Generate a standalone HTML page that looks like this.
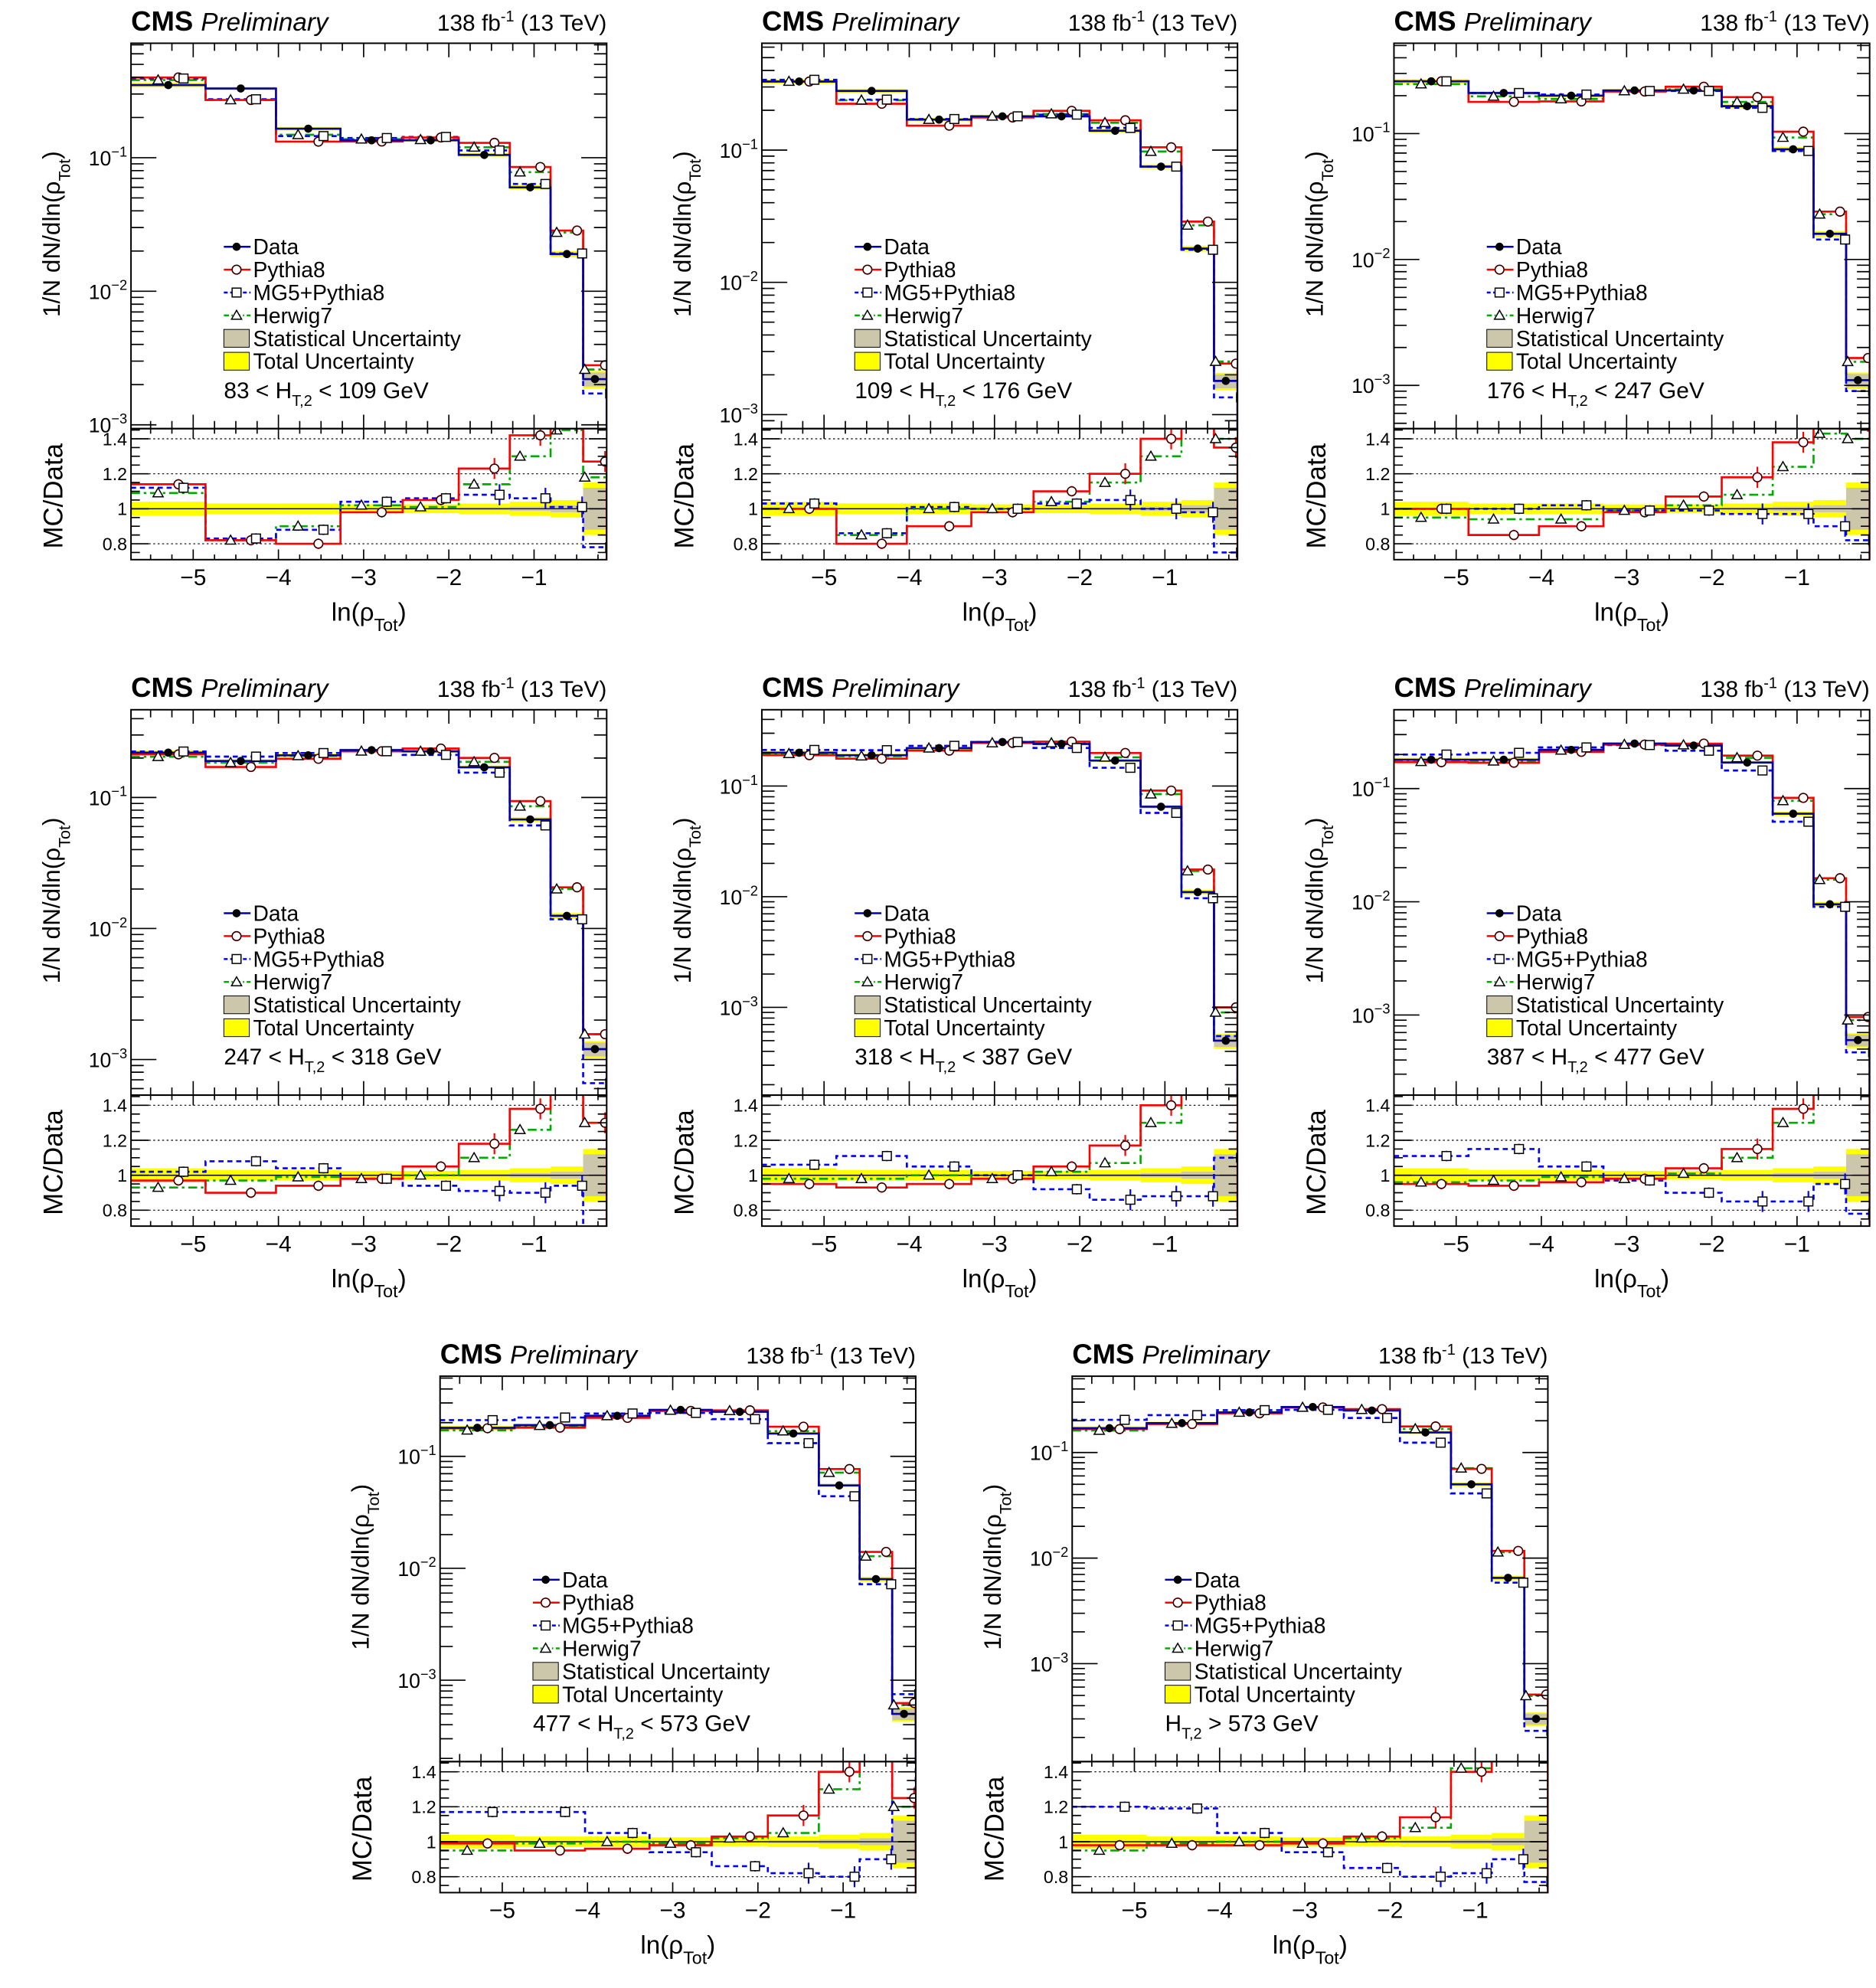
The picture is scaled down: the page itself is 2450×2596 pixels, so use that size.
<!DOCTYPE html>
<html><head><meta charset="utf-8">
<style>html,body{margin:0;padding:0;background:#fff;width:2450px;height:2596px;overflow:hidden;}svg{display:block;}</style>
</head><body>
<svg id="s" xmlns="http://www.w3.org/2000/svg" width="2450" height="2596" viewBox="0 0 1475 1563" preserveAspectRatio="none" font-family="Liberation Sans, sans-serif"></svg>
<script>
const S=document.getElementById('s');let out='';
const W=374,UH=303,RH=103;
const EDGES=[0,58.6,114,164.7,213.6,257.7,297.8,329.9,355.5,374];
const P=[
{x:103,y:34,d1:124,dd:105,lab:['83 < H','T,2',' < 109 GeV'],
 data:[0.35,0.33,0.165,0.135,0.135,0.105,0.06,0.019,0.0022],
 py:[1.14,0.82,0.80,0.98,1.05,1.23,1.42,1.5,1.27],mg:[1.12,0.83,0.88,1.04,1.06,1.08,1.06,1.01,0.78],hw:[1.09,0.82,0.9,1.02,1.01,1.14,1.3,1.45,1.18]},
{x:599,y:34,d1:118,dd:104,lab:['109 < H','T,2',' < 176 GeV'],
 data:[0.33,0.28,0.17,0.18,0.18,0.14,0.075,0.018,0.0018],
 py:[1.0,0.8,0.9,0.98,1.1,1.2,1.4,1.6,1.35],mg:[1.03,0.86,1.01,1.0,1.03,1.05,1.0,0.98,0.75],hw:[1.0,0.85,1.0,1.0,1.04,1.15,1.3,1.5,1.4]},
{x:1096,y:34,d1:105,dd:99,lab:['176 < H','T,2',' < 247 GeV'],
 data:[0.26,0.21,0.2,0.22,0.22,0.165,0.075,0.016,0.0011],
 py:[1.0,0.85,0.9,0.98,1.07,1.18,1.38,1.5,1.5],mg:[1.0,1.0,1.02,0.99,0.99,0.97,0.97,0.9,0.82],hw:[0.95,0.94,0.94,0.99,1.02,1.08,1.24,1.43,1.4]},
{x:103,y:558,d1:627,dd:103,lab:['247 < H','T,2',' < 318 GeV'],
 data:[0.22,0.19,0.21,0.23,0.225,0.17,0.068,0.0125,0.0012],
 py:[0.97,0.9,0.94,0.98,1.05,1.18,1.38,1.65,1.3],mg:[1.02,1.08,1.04,0.98,0.94,0.91,0.9,0.94,0.55],hw:[0.93,0.97,0.99,0.98,1.0,1.1,1.26,1.6,1.3]},
{x:599,y:558,d1:618,dd:87,lab:['318 < H','T,2',' < 387 GeV'],
 data:[0.2,0.19,0.22,0.25,0.24,0.17,0.065,0.011,0.0005],
 py:[0.95,0.93,0.95,0.98,1.05,1.17,1.4,1.6,2],mg:[1.06,1.11,1.05,1.0,0.92,0.86,0.88,0.88,1.1],hw:[0.98,0.98,1.0,0.98,1.02,1.07,1.3,1.55,1.8]},
{x:1096,y:558,d1:620,dd:89,lab:['387 < H','T,2',' < 477 GeV'],
 data:[0.18,0.18,0.22,0.25,0.24,0.17,0.06,0.0095,0.0006],
 py:[0.95,0.94,0.96,0.98,1.04,1.15,1.38,1.7,1.6],mg:[1.11,1.15,1.05,0.97,0.9,0.85,0.85,0.95,0.78],hw:[0.96,0.97,0.99,0.98,1.01,1.1,1.3,1.65,1.5]},
{x:346,y:1082,d1:1145,dd:88,lab:['477 < H','T,2',' < 573 GeV'],
 data:[0.18,0.19,0.23,0.26,0.25,0.16,0.055,0.008,0.0005],
 py:[0.99,0.95,0.96,0.98,1.03,1.15,1.4,1.75,1.25],mg:[1.17,1.17,1.05,0.94,0.86,0.82,0.8,0.9,1.5],hw:[0.95,0.99,1.0,0.99,1.02,1.05,1.3,1.6,1.2]},
{x:843,y:1082,d1:1142,dd:83,lab:['H','T,2',' > 573 GeV'],
 data:[0.17,0.19,0.24,0.27,0.25,0.155,0.05,0.0065,0.0003],
 py:[0.98,0.98,0.98,0.99,1.03,1.14,1.4,1.8,1.7],mg:[1.2,1.19,1.05,0.94,0.85,0.8,0.82,0.9,0.77],hw:[0.95,0.99,1.0,0.99,1.02,1.08,1.42,1.75,1.65]}
];
const TU=[0.04,0.03,0.03,0.025,0.025,0.03,0.04,0.05,0.15],SU=[0.005,0.005,0.005,0.005,0.005,0.008,0.012,0.02,0.12];
function mk(t,cx,cy,c){
 if(t=='d')return `<circle cx="${cx}" cy="${cy}" r="3.2" fill="#000"/>`;
 if(t=='p')return `<circle cx="${cx}" cy="${cy}" r="3.5" fill="#fff" stroke="${c}" stroke-width="1"/><circle cx="${cx}" cy="${cy}" r="3.5" fill="none" stroke="#000" stroke-width="0.7"/>`;
 if(t=='m')return `<rect x="${cx-3.5}" y="${cy-3.5}" width="7" height="7" fill="#fff" stroke="#000" stroke-width="0.9"/>`;
 return `<path d="M${cx},${cy-4} L${cx+4},${cy+3} L${cx-4},${cy+3}Z" fill="#fff" stroke="#000" stroke-width="0.9"/>`;
}
P.forEach((p,pi)=>{
 const X0=p.x,Y0=p.y,RY=Y0+UH,RB=RY+RH;
 const yu=v=>p.d1-(Math.log10(v)+1)*p.dd;
 const yr=r=>Y0+366-(r-1)*137.5;
 const xv=v=>X0+(v+5.73)*67;
 out+=`<clipPath id="cu${pi}"><rect x="${X0}" y="${Y0}" width="${W}" height="${UH}"/></clipPath><clipPath id="cr${pi}"><rect x="${X0}" y="${RY}" width="${W}" height="${RH}"/></clipPath>`;
 let g=`<g clip-path="url(#cu${pi})">`;
 for(let i=0;i<9;i++){const a=X0+EDGES[i],b=X0+EDGES[i+1],d=p.data[i];
  g+=`<rect x="${a}" y="${yu(d*(1+TU[i]))}" width="${b-a}" height="${yu(d*(1-TU[i]))-yu(d*(1+TU[i]))}" fill="#ffff00"/>`;
  g+=`<rect x="${a}" y="${yu(d*(1+SU[i]))}" width="${b-a}" height="${yu(d*(1-SU[i]))-yu(d*(1+SU[i]))}" fill="#ccc6aa"/>`;}
 const step=(vals,col,dash,w,f)=>{let d='';for(let i=0;i<9;i++){const y=f(i);d+=(i==0?`M${X0+EDGES[0]},${y}`:`L${X0+EDGES[i]},${y}`)+` L${X0+EDGES[i+1]},${y}`;}
  d+=` L${X0+EDGES[9]},2000`;return `<path d="${d}" fill="none" stroke="${col}" stroke-width="${w}" ${dash?`stroke-dasharray="${dash}"`:''}/>`;};
 g+=step(0,'#00aa00','7,3,2,3',1.6,i=>yu(p.data[i]*p.hw[i]));
 g+=step(0,'#0000ff','4,3',1.6,i=>yu(p.data[i]*p.mg[i]));
 g+=step(0,'#ff0000','',1.6,i=>yu(p.data[i]*p.py[i]));
 g+=step(0,'#0000aa','',1.6,i=>yu(p.data[i]));
 for(let i=0;i<9;i++){const a=X0+EDGES[i],b=X0+EDGES[i+1],c=(a+b)/2,d=p.data[i];
  g+=`<line x1="${c+8}" x2="${c+8}" y1="${yu(d*p.py[i]*1.08)}" y2="${yu(d*p.py[i]*0.93)}" stroke="#f00" stroke-width="1.2"/>`;
  g+=mk('h',c-8,yu(d*p.hw[i]));g+=mk('p',c+8,yu(d*p.py[i]),'#f00');g+=mk('m',c+12,yu(d*p.mg[i]));g+=mk('d',c,yu(d));}
 g+='</g>';out+=g;
 g=`<g clip-path="url(#cr${pi})">`;
 for(let i=0;i<9;i++){const a=X0+EDGES[i],b=X0+EDGES[i+1];
  g+=`<rect x="${a}" y="${yr(1+TU[i])}" width="${b-a}" height="${yr(1-TU[i])-yr(1+TU[i])}" fill="#ffff00"/>`;
  g+=`<rect x="${a}" y="${yr(1+SU[i])}" width="${b-a}" height="${yr(1-SU[i])-yr(1+SU[i])}" fill="#ccc6aa"/>`;}
 [0.8,1.2,1.4].forEach(r=>g+=`<line x1="${X0}" x2="${X0+W}" y1="${yr(r)}" y2="${yr(r)}" stroke="#000" stroke-width="0.7" stroke-dasharray="1.5,2"/>`);
 g+=`<line x1="${X0}" x2="${X0+W}" y1="${yr(1)}" y2="${yr(1)}" stroke="#000" stroke-width="0.8"/>`;
 g+=step(0,'#00aa00','7,3,2,3',1.6,i=>yr(p.hw[i]));
 g+=step(0,'#0000ff','4,3',1.6,i=>yr(p.mg[i]));
 g+=step(0,'#ff0000','',1.6,i=>yr(p.py[i]));
 for(let i=0;i<9;i++){const a=X0+EDGES[i],b=X0+EDGES[i+1],c=(a+b)/2,e=i>=5?0.06:0.03;
  g+=`<line x1="${c+8}" x2="${c+8}" y1="${yr(p.py[i]+e)}" y2="${yr(p.py[i]-e)}" stroke="#f00" stroke-width="1.3"/>`;
  g+=`<line x1="${c+12}" x2="${c+12}" y1="${yr(p.mg[i]+e)}" y2="${yr(p.mg[i]-e)}" stroke="#00f" stroke-width="1.3"/>`;
  g+=mk('h',c-8,yr(p.hw[i]));g+=mk('p',c+8,yr(p.py[i]),'#f00');g+=mk('m',c+12,yr(p.mg[i]));}
 g+='</g>';out+=g;
 out+=`<rect x="${X0}" y="${Y0}" width="${W}" height="${UH}" fill="none" stroke="#000" stroke-width="1.2"/><rect x="${X0}" y="${RY}" width="${W}" height="${RH}" fill="none" stroke="#000" stroke-width="1.2"/>`;
 let t='';
 for(let v=-5.75;v<=-0.15;v+=0.25){const x=xv(v);if(x<X0+1||x>X0+W-1)continue;const maj=Math.abs(v-Math.round(v))<0.01;const L=maj?11:6;
  t+=`M${x},${Y0}v${L}M${x},${RY}v${-L}M${x},${RY}v${maj?8:4}M${x},${RB}v${-(maj?8:4)}`;}
 for(let e=-4;e<=0;e++)for(let m=1;m<10;m++){const y=p.d1-(e+1+Math.log10(m))*p.dd;if(y<Y0+1||y>RY-1)continue;const L=m==1?20:10;
  t+=`M${X0},${y}h${L}M${X0+W},${y}h${-L}`;}
 for(let r=0.75;r<1.46;r+=0.05){const y=yr(r);if(y<RY+1||y>RB-1)continue;const maj=Math.abs(r*5-Math.round(r*5))<0.01;const L=maj?14:7;
  t+=`M${X0},${y}h${L}M${X0+W},${y}h${-L}`;}
 out+=`<path d="${t}" stroke="#000" stroke-width="1" fill="none"/>`;
 for(let e=-3;e<=-1;e++){const y=p.d1-(e+1)*p.dd;if(y>RY+3)continue;
  out+=`<text x="${X0-3}" y="${y+6}" font-size="16" text-anchor="end">10<tspan dy="-7" font-size="11">−${-e}</tspan></text>`;}
 [[1.4,'1.4'],[1.2,'1.2'],[1,'1'],[0.8,'0.8']].forEach(([r,s])=>out+=`<text x="${X0-3}" y="${yr(r)+5}" font-size="14" text-anchor="end">${s}</text>`);
 for(let v=-5;v<=-1;v++)out+=`<text x="${xv(v)}" y="${RB+20}" font-size="18" text-anchor="middle">−${-v}</text>`;
 out+=`<text x="${X0+187}" y="${RB+48}" font-size="20" text-anchor="middle">ln(ρ<tspan dy="8" font-size="14">Tot</tspan><tspan dy="-8">)</tspan></text>`;
 out+=`<text transform="translate(${X0-56},${Y0+150}) rotate(-90)" font-size="19" text-anchor="middle">1/N dN/dln(ρ<tspan dy="8" font-size="13">Tot</tspan><tspan dy="-8">)</tspan></text>`;
 out+=`<text transform="translate(${X0-54},${RY+53}) rotate(-90)" font-size="21" text-anchor="middle">MC/Data</text>`;
 out+=`<text x="${X0}" y="${Y0-10}" font-size="22"><tspan font-weight="bold">CMS</tspan> <tspan font-style="italic" font-size="20">Preliminary</tspan></text>`;
 out+=`<text x="${X0+W}" y="${Y0-10}" font-size="18" text-anchor="end">138 fb<tspan dy="-7" font-size="12">-1</tspan><tspan dy="7"> (13 TeV)</tspan></text>`;
 const lx=X0+73,ly=Y0+160;
 const items=[['Data','#0000aa','','d'],['Pythia8','#f00','','p'],['MG5+Pythia8','#00f','3,2','m'],['Herwig7','#00aa00','4,2,1,2','h'],['Statistical Uncertainty','#ccc6aa'],['Total Uncertainty','#ffff00']];
 items.forEach((it,i)=>{const y=ly+18*i;
  if(i<4){out+=`<line x1="${lx}" x2="${lx+21}" y1="${y}" y2="${y}" stroke="${it[1]}" stroke-width="1.5" ${it[2]?`stroke-dasharray="${it[2]}"`:''}/>`+mk(it[3],lx+10,y,'#f00');}
  else out+=`<rect x="${lx}" y="${y-7}" width="20" height="14" fill="${it[1]}" stroke="#000" stroke-width="0.6"/>`;
  out+=`<text x="${lx+23}" y="${y+6}" font-size="17">${it[0]}</text>`;});
 out+=`<text x="${X0+73}" y="${Y0+279}" font-size="18">${p.lab[0]}<tspan dy="6" font-size="12">${p.lab[1]}</tspan><tspan dy="-6">${p.lab[2]}</tspan></text>`;
});
S.innerHTML=out;
</script>
</body></html>
